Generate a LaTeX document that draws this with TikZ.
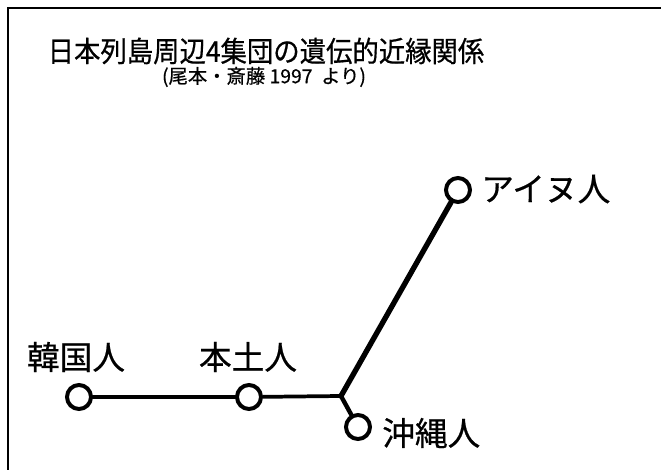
\documentclass[tikz,border=0pt]{standalone}
\usepackage{fontspec}
\newfontfamily\jp[FakeBold=0.6]{Noto Sans CJK JP}
\begin{document}
\begin{tikzpicture}[x=0.75pt,y=-0.75pt,
  leaf/.style={circle,draw=black,line width=3pt,fill=white,minimum size=18pt,inner sep=0pt},
  lbl/.style={font=\jp\fontsize{24.5pt}{27pt}\selectfont,inner sep=0pt},
  branch/.style={line width=2.8pt,line cap=round,line join=round}]
\useasboundingbox (0,0) rectangle (661,470);
\fill[white] (0,0) rectangle (661,470);
\draw[line width=1.6pt] (8,470) -- (8,8) -- (661,8);
\node[font=\jp\fontsize{21.5pt}{24pt}\selectfont,inner sep=0pt,xscale=0.92] (title) at (266,51) {日本列島周辺4集団の遺伝的近縁関係};
\node[font=\jp\fontsize{14.5pt}{17pt}\selectfont,inner sep=0pt] (sub) at (264,77) {(尾本・斎藤 1997\ \ より)};
\coordinate (junc) at (341,396);
\node[leaf] (kor) at (79,397) {};
\node[leaf] (hon) at (249,397) {};
\node[leaf] (oki) at (358,427) {};
\node[leaf] (ain) at (458,190) {};
\draw[branch] (kor) -- (hon);
\draw[branch] (hon) -- (junc);
\draw[branch,line width=3.3pt] (junc) -- (oki);
\draw[branch,line width=4pt] (junc) -- (ain);
\node[lbl] (korl) at (76,357) {韓国人};
\node[lbl] (honl) at (248,357) {本土人};
\node[lbl,anchor=west] (ainl) at (481,189) {アイヌ人};
\node[lbl,anchor=west] (okil) at (382,433) {沖縄人};
\end{tikzpicture}
\end{document}
